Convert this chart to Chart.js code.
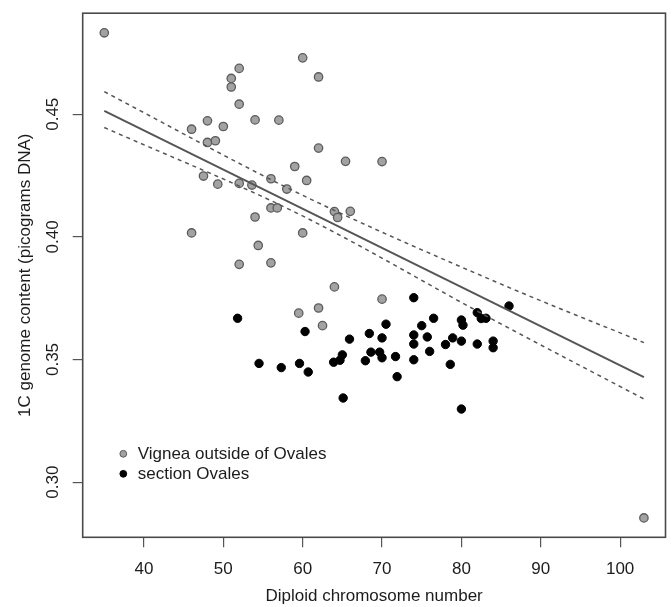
<!DOCTYPE html>
<html>
<head>
<meta charset="utf-8">
<script src="https://cdn.jsdelivr.net/npm/chart.js@4"></script>
<style>
  html, body { margin: 0; padding: 0; background: #fff; }
  #wrap { width: 671px; height: 607px; }
</style>
</head>
<body>
<div id="wrap"><canvas id="chart" width="671" height="607"></canvas></div>
<script>
// Vignea outside of Ovales (grey)
const vigneaX = [35, 60, 52, 62, 51, 51, 52, 46, 48, 50, 54, 57, 48, 49, 62, 59, 47.5, 60.5, 56, 49.3, 52,
  53.6, 58, 56, 56.8, 54, 46, 60, 54.4, 52, 56, 65.4, 70, 64, 64.4, 66, 64, 70, 59.5, 62, 62.5, 103];
const vigneaY = [0.4832, 0.4730, 0.4687, 0.4652, 0.4646, 0.4611, 0.4541, 0.4439, 0.4473, 0.4450, 0.4477,
  0.4476, 0.4385, 0.4392, 0.4362, 0.4287, 0.4248, 0.4230, 0.4237, 0.4215, 0.4218, 0.4211, 0.4195, 0.4118,
  0.4118, 0.4081, 0.4016, 0.4016, 0.3965, 0.3888, 0.3894, 0.4308, 0.4307, 0.4103, 0.4079, 0.4104, 0.3796,
  0.3746, 0.3689, 0.3710, 0.3638, 0.2854];

// section Ovales (black)
const ovalesX = [51.8, 60.3, 54.5, 57.3, 59.6, 60.7, 74, 86, 76.5, 70.5, 75, 82, 82.5, 83.1, 80, 80.2, 68.4,
  74, 70, 65.9, 75.7, 78.9, 74, 78, 80, 82, 84, 84, 68.6, 69.7, 76, 71.7, 70, 65, 64.7, 63.9, 67.9, 74,
  78.6, 71.9, 65.1, 80];
const ovalesY = [0.3668, 0.3614, 0.3484, 0.3467, 0.3484, 0.3449, 0.3752, 0.3718, 0.3668, 0.3644, 0.3638,
  0.3691, 0.3667, 0.3668, 0.3661, 0.3640, 0.3606, 0.3600, 0.3588, 0.3583, 0.3592, 0.3588, 0.3563, 0.3561,
  0.3575, 0.3563, 0.3575, 0.3548, 0.3530, 0.3530, 0.3533, 0.3512, 0.3507, 0.3519, 0.3497, 0.3489, 0.3495,
  0.3499, 0.3480, 0.3430, 0.3343, 0.3298];

// regression line and its confidence band
const fitX = [35, 103];
const fitY = [0.4514, 0.3428];
const bandX = [35, 59.2, 84.3, 103];
const upperY = [0.4592, 0.4182, 0.3817, 0.3569];
const lowerY = [0.4446, 0.4098, 0.3657, 0.3339];

const xTicks = [40, 50, 60, 70, 80, 90, 100];
const yTicks = [0.30, 0.35, 0.40, 0.45];

const legendLabels = ['Vignea outside of Ovales', 'section Ovales'];

const FONT = '"Liberation Sans", Arial, Helvetica, sans-serif';
const TEXT = '#1c1c1c';
const GREY_FILL = '#a2a2a2';
const GREY_EDGE = '#5c5c5c';

const pts = (xs, ys) => xs.map((x, i) => ({ x: x, y: ys[i] }));

// box, rotated y labels and legend, the way R draws them
const rPlot = {
  id: 'rPlot',
  afterDatasetsDraw(chart) {
    const { ctx, chartArea: a } = chart;
    const ys = chart.scales.y;
    ctx.save();
    ctx.strokeStyle = '#4a4a4a';
    ctx.lineWidth = 1.6;
    ctx.strokeRect(a.left, a.top, a.right - a.left, a.bottom - a.top);

    ctx.fillStyle = TEXT;
    ctx.font = '17px ' + FONT;
    ctx.textAlign = 'center';
    ctx.textBaseline = 'middle';
    yTicks.forEach((v) => {
      const py = ys.getPixelForValue(v);
      ctx.save();
      ctx.translate(53, py);
      ctx.rotate(-Math.PI / 2);
      ctx.fillText(v.toFixed(2), 0, 0);
      ctx.restore();
    });

    // legend
    const lx = a.left + 40.6;
    const ly = a.bottom - 83.5;
    const fills = [GREY_FILL, '#000'];
    const edges = [GREY_EDGE, '#000'];
    legendLabels.forEach((label, i) => {
      const cy = ly + i * 20;
      ctx.beginPath();
      ctx.arc(lx, cy, 3.4, 0, Math.PI * 2);
      ctx.fillStyle = fills[i];
      ctx.fill();
      ctx.lineWidth = 1;
      ctx.strokeStyle = edges[i];
      ctx.stroke();
      ctx.fillStyle = TEXT;
      ctx.textAlign = 'left';
      ctx.fillText(label, lx + 14.4, cy + 1);
    });
    ctx.restore();
  },
};

new Chart(document.getElementById('chart'), {
  type: 'scatter',
  data: {
    datasets: [
      {
        type: 'line',
        data: pts(fitX, fitY),
        borderColor: '#555',
        borderWidth: 2,
        pointRadius: 0,
        fill: false,
      },
      {
        type: 'line',
        data: pts(bandX, upperY),
        borderColor: '#555',
        borderWidth: 1.5,
        borderDash: [4, 4],
        cubicInterpolationMode: 'monotone',
        pointRadius: 0,
        fill: false,
      },
      {
        type: 'line',
        data: pts(bandX, lowerY),
        borderColor: '#555',
        borderWidth: 1.5,
        borderDash: [4, 4],
        cubicInterpolationMode: 'monotone',
        pointRadius: 0,
        fill: false,
      },
      {
        label: legendLabels[1],
        data: pts(ovalesX, ovalesY),
        backgroundColor: '#000',
        borderColor: '#000',
        borderWidth: 1,
        pointRadius: 4.2,
      },
      {
        label: legendLabels[0],
        data: pts(vigneaX, vigneaY),
        backgroundColor: GREY_FILL,
        borderColor: GREY_EDGE,
        borderWidth: 1.3,
        pointRadius: 4.2,
      },
    ],
  },
  options: {
    responsive: false,
    animation: false,
    events: [],
    layout: {
      padding: { top: 11.7, right: 1.7, left: 0, bottom: 0 },
    },
    scales: {
      x: {
        type: 'linear',
        min: 32.28,
        max: 105.72,
        afterFit: (s) => { s.height = 69.7; },
        afterBuildTicks: (s) => { s.ticks = xTicks.map((v) => ({ value: v })); },
        border: { display: false },
        grid: {
          drawOnChartArea: false,
          drawTicks: true,
          tickLength: 10,
          color: '#555',
          lineWidth: 1.2,
        },
        ticks: {
          color: TEXT,
          font: { family: FONT, size: 17 },
          padding: 12,
          maxRotation: 0,
        },
        title: {
          display: true,
          text: 'Diploid chromosome number',
          color: TEXT,
          font: { family: FONT, size: 17 },
          padding: { top: 0, bottom: 0.8 },
        },
      },
      y: {
        type: 'linear',
        min: 0.2775,
        max: 0.4912,
        afterFit: (s) => { s.width = 82.7; },
        afterBuildTicks: (s) => { s.ticks = yTicks.map((v) => ({ value: v })); },
        border: { display: false },
        grid: {
          drawOnChartArea: false,
          drawTicks: true,
          tickLength: 10,
          color: '#555',
          lineWidth: 1.2,
        },
        ticks: {
          color: 'rgba(0,0,0,0)',
          font: { family: FONT, size: 17 },
        },
        title: {
          display: true,
          text: '1C genome content (picograms DNA)',
          color: TEXT,
          font: { family: FONT, size: 17 },
          padding: { top: 14.8, bottom: 0 },
        },
      },
    },
    plugins: {
      legend: { display: false },
      tooltip: { enabled: false },
    },
  },
  plugins: [rPlot],
});
</script>
</body>
</html>
